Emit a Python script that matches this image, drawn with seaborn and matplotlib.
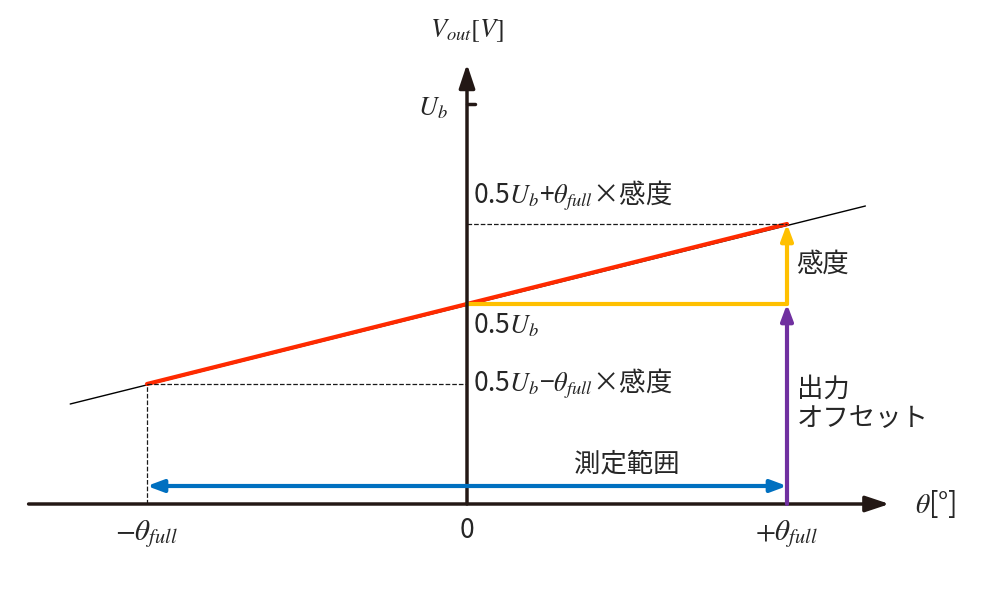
import matplotlib
matplotlib.use("Agg")
import matplotlib.pyplot as plt
import seaborn as sns
import pandas as pd

sns.set_theme(style="white")
plt.rcParams['font.family'] = ['Noto Sans CJK JP', 'DejaVu Sans']
plt.rcParams['mathtext.fontset'] = 'stix'

theta = [-1.0, 0.0, 1.0]            # -θfull, 0, +θfull
vout = [0.30, 0.50, 0.70]           # output at those angles
ub = 1.0
ext_theta = [-1.24, 1.245]
ext_vout = [0.25, 0.745]

fig = plt.figure(figsize=(10, 5.9), dpi=100)
ax = fig.add_axes([0, 0, 1, 1])
ax.set_xlim(-467/320, 533/320)
ax.set_ylim(-86/400, 504/400)
ax.axis('off')

dark = '#231815'
# axes arrows
ax.annotate('', xy=(1.32, 0), xytext=(-1.37, 0),
            arrowprops=dict(arrowstyle='-|>,head_length=1.2,head_width=0.4', color=dark, lw=2.5, shrinkA=0, shrinkB=0))
ax.annotate('', xy=(0, 1.1), xytext=(0, 0),
            arrowprops=dict(arrowstyle='-|>,head_length=1.2,head_width=0.4', color=dark, lw=2.5, shrinkA=0, shrinkB=0))
ax.plot([0, 0.025], [ub, ub], color=dark, lw=2.5)

# thin extension line and red segment
sns.lineplot(x=ext_theta, y=ext_vout, ax=ax, color='black', lw=1)
sns.lineplot(data=pd.DataFrame({'t': theta, 'v': vout}), x='t', y='v', ax=ax, color='#ff2a00', lw=3)

# dashed guides
ax.plot([0, theta[2]], [vout[2], vout[2]], 'k--', lw=0.9)
ax.plot([theta[0], 0], [vout[0], vout[0]], 'k--', lw=0.9)
ax.plot([theta[0], theta[0]], [0, vout[0]], 'k--', lw=0.9)

# yellow horizontal and arrow
ax.plot([0, theta[2]], [vout[1], vout[1]], color='#ffc000', lw=3)
ax.annotate('', xy=(theta[2], vout[2]), xytext=(theta[2], vout[1]),
            arrowprops=dict(arrowstyle='-|>,head_length=0.8,head_width=0.3', color='#ffc000', lw=3, shrinkA=0, shrinkB=0))
# purple offset arrow
ax.annotate('', xy=(theta[2], vout[1]), xytext=(theta[2], 0),
            arrowprops=dict(arrowstyle='-|>,head_length=0.8,head_width=0.3', color='#7030a0', lw=3, shrinkA=0, shrinkB=0))
# blue measurement range
ax.annotate('', xy=(theta[0], 0.045), xytext=(theta[2], 0.045),
            arrowprops=dict(arrowstyle='<|-|>,head_length=0.8,head_width=0.3', color='#0070c0', lw=3, shrinkA=0, shrinkB=0))

fs = 19
ax.text(0.0, 1.185, r'$V_{out}[V]$', ha='center', va='center', fontsize=fs)
ax.text(-0.06, ub - 0.01, r'$U_b$', ha='right', va='center', fontsize=fs)
ax.text(0.02, 0.77, r'0.5$U_b$+$\theta_{full}$×感度', ha='left', va='center', fontsize=fs)
ax.text(0.02, 0.445, r'0.5$U_b$', ha='left', va='center', fontsize=fs)
ax.text(0.02, 0.30, r'0.5$U_b$−$\theta_{full}$×感度', ha='left', va='center', fontsize=fs)
ax.text(1.03, 0.60, '感度', ha='left', va='center', fontsize=fs)
ax.text(1.03, 0.25, '出力\nオフセット', ha='left', va='center', fontsize=fs, linespacing=1.1)
ax.text(0.5, 0.10, '測定範囲', ha='center', va='center', fontsize=fs)
ax.text(theta[0], -0.075, r'$-\theta_{full}$', ha='center', va='center', fontsize=fs + 2)
ax.text(theta[1], -0.065, '0', ha='center', va='center', fontsize=fs)
ax.text(theta[2], -0.075, r'$+\theta_{full}$', ha='center', va='center', fontsize=fs + 2)
ax.text(1.40, 0.0, r'$\theta$[°]', ha='left', va='center', fontsize=fs + 1)

fig.savefig('out.png', dpi=100)
